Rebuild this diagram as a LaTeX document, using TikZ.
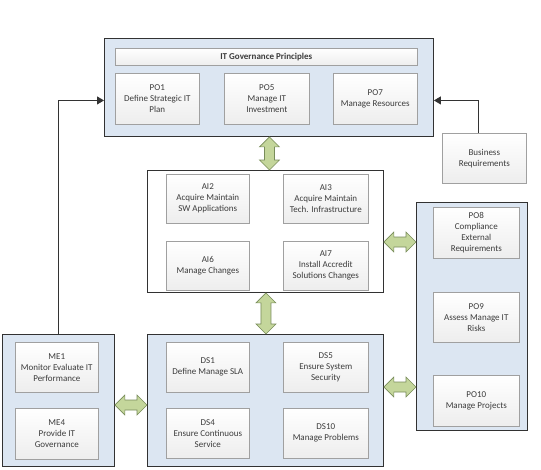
\documentclass[tikz,border=0pt]{standalone}
\usepackage{fontspec}
\setmainfont{Carlito}
\usetikzlibrary{calc,arrows.meta}
\definecolor{contfill}{RGB}{220,230,242}
\definecolor{contline}{RGB}{50,50,50}
\definecolor{boxline}{RGB}{160,160,160}
\definecolor{arrfill}{RGB}{196,214,155}
\definecolor{arrline}{RGB}{120,140,90}
\definecolor{txt}{RGB}{60,60,60}
\tikzset{
  container/.style={draw=contline, fill=contfill, line width=0.9pt, anchor=north west, inner sep=0pt},
  whitecont/.style={container, fill=white},
  pbox/.style={draw=boxline, top color=white, bottom color=black!7, line width=0.6pt, anchor=north west,
    inner sep=1pt, align=center, font=\fontsize{9}{11}\selectfont, text=txt},
  conn/.style={draw=black!80, line width=0.9pt, -{Triangle[length=7pt,width=8pt]}},
  blockarr/.style={draw=arrline, fill=arrfill, line width=0.6pt, line join=miter},
}
\newcommand{\harrow}[2]{%
  \filldraw[blockarr] let \p1=(#1), \p2=(#2) in
    (\x1,\y1) -- (\x1+10pt,\y1+10pt) -- (\x1+10pt,\y1+5pt) -- (\x2-10pt,\y1+5pt) -- (\x2-10pt,\y1+10pt)
    -- (\x2,\y1) -- (\x2-10pt,\y1-10pt) -- (\x2-10pt,\y1-5pt) -- (\x1+10pt,\y1-5pt) -- (\x1+10pt,\y1-10pt) -- cycle;}
\newcommand{\varrow}[2]{%
  \filldraw[blockarr] let \p1=(#1), \p2=(#2) in
    (\x1,\y1) -- (\x1+10pt,\y1-10pt) -- (\x1+5pt,\y1-10pt) -- (\x1+5pt,\y2+10pt) -- (\x1+10pt,\y2+10pt)
    -- (\x1,\y2) -- (\x1-10pt,\y2+10pt) -- (\x1-5pt,\y2+10pt) -- (\x1-5pt,\y1-10pt) -- (\x1-10pt,\y1-10pt) -- cycle;}
\begin{document}
\begin{tikzpicture}[x=1pt,y=-1pt]
\useasboundingbox (0,0) rectangle (541,469);
% containers
\node[container, minimum width=329pt, minimum height=98pt] (po) at (104,38) {};
\node[whitecont, minimum width=236pt, minimum height=122pt] (ai) at (147,170) {};
\node[container, minimum width=236pt, minimum height=132pt] (ds) at (147,334) {};
\node[container, minimum width=112pt, minimum height=132pt] (me) at (2,334) {};
\node[container, minimum width=111pt, minimum height=228pt] (pr) at (416,202) {};
% PO top
\node[pbox, minimum width=302pt, minimum height=17pt, font=\fontsize{9}{11}\selectfont\bfseries] (title) at (115,48) {IT Governance Principles};
\node[pbox, minimum width=84pt, minimum height=51pt] (po1) at (115,73) {PO1\\Define Strategic IT\\Plan};
\node[pbox, minimum width=85pt, minimum height=51pt] (po5) at (224,73) {PO5\\Manage IT\\Investment};
\node[pbox, minimum width=84pt, minimum height=51pt] (po7) at (333,73) {PO7\\Manage Resources};
% AI
\node[pbox, minimum width=83pt, minimum height=49pt] (ai2) at (166,174) {AI2\\Acquire Maintain\\SW Applications};
\node[pbox, minimum width=85pt, minimum height=49pt] (ai3) at (283,174) {AI3\\Acquire Maintain\\Tech. Infrastructure};
\node[pbox, minimum width=83pt, minimum height=49pt] (ai6) at (166,241) {AI6\\Manage Changes};
\node[pbox, minimum width=85pt, minimum height=49pt] (ai7) at (283,241) {AI7\\Install Accredit\\Solutions Changes};
% DS
\node[pbox, minimum width=83pt, minimum height=50pt] (ds1) at (166,342) {DS1\\Define Manage SLA};
\node[pbox, minimum width=85pt, minimum height=50pt] (ds5) at (283,342) {DS5\\Ensure System\\Security};
\node[pbox, minimum width=83pt, minimum height=50pt] (ds4) at (166,408) {DS4\\Ensure Continuous\\Service};
\node[pbox, minimum width=85pt, minimum height=50pt] (ds10) at (283,408) {DS10\\Manage Problems};
% ME
\node[pbox, minimum width=83pt, minimum height=50pt] (me1) at (15,342) {ME1\\Monitor Evaluate IT\\Performance};
\node[pbox, minimum width=83pt, minimum height=51pt] (me4) at (15,408) {ME4\\Provide IT\\Governance};
% right PO
\node[pbox, minimum width=86pt, minimum height=51pt] (po8) at (433,207) {PO8\\Compliance\\External\\Requirements};
\node[pbox, minimum width=86pt, minimum height=50pt] (po9) at (433,292) {PO9\\Assess Manage IT\\Risks};
\node[pbox, minimum width=86pt, minimum height=51pt] (po10) at (433,375) {PO10\\Manage Projects};
% business
\node[pbox, minimum width=84pt, minimum height=50pt] (br) at (442,133) {Business\\Requirements};
% connectors
\draw[conn] (me.north) |- ([yshift=-13pt]po.west);
\draw[conn] ([xshift=-6pt]br.north) |- ([yshift=-13pt]po.east);
% block arrows
\coordinate (v1a) at ($(po.south)+(0.5pt,0)$);
\coordinate (v1b) at ($(ai.north)+(0.5pt,0)$);
\varrow{v1a}{v1b}
\coordinate (v2a) at ($(ai.south)+(0.5pt,0)$);
\coordinate (v2b) at ($(ds.north)+(0.5pt,0)$);
\varrow{v2a}{v2b}
\coordinate (h1a) at (ai.east |- 0,242);
\coordinate (h1b) at (pr.west |- 0,242);
\harrow{h1a}{h1b}
\coordinate (h2a) at (ds.east |- 0,387);
\coordinate (h2b) at (pr.west |- 0,387);
\harrow{h2a}{h2b}
\coordinate (h3a) at (me.east |- 0,405);
\coordinate (h3b) at (ds.west |- 0,405);
\harrow{h3a}{h3b}
\end{tikzpicture}
\end{document}
